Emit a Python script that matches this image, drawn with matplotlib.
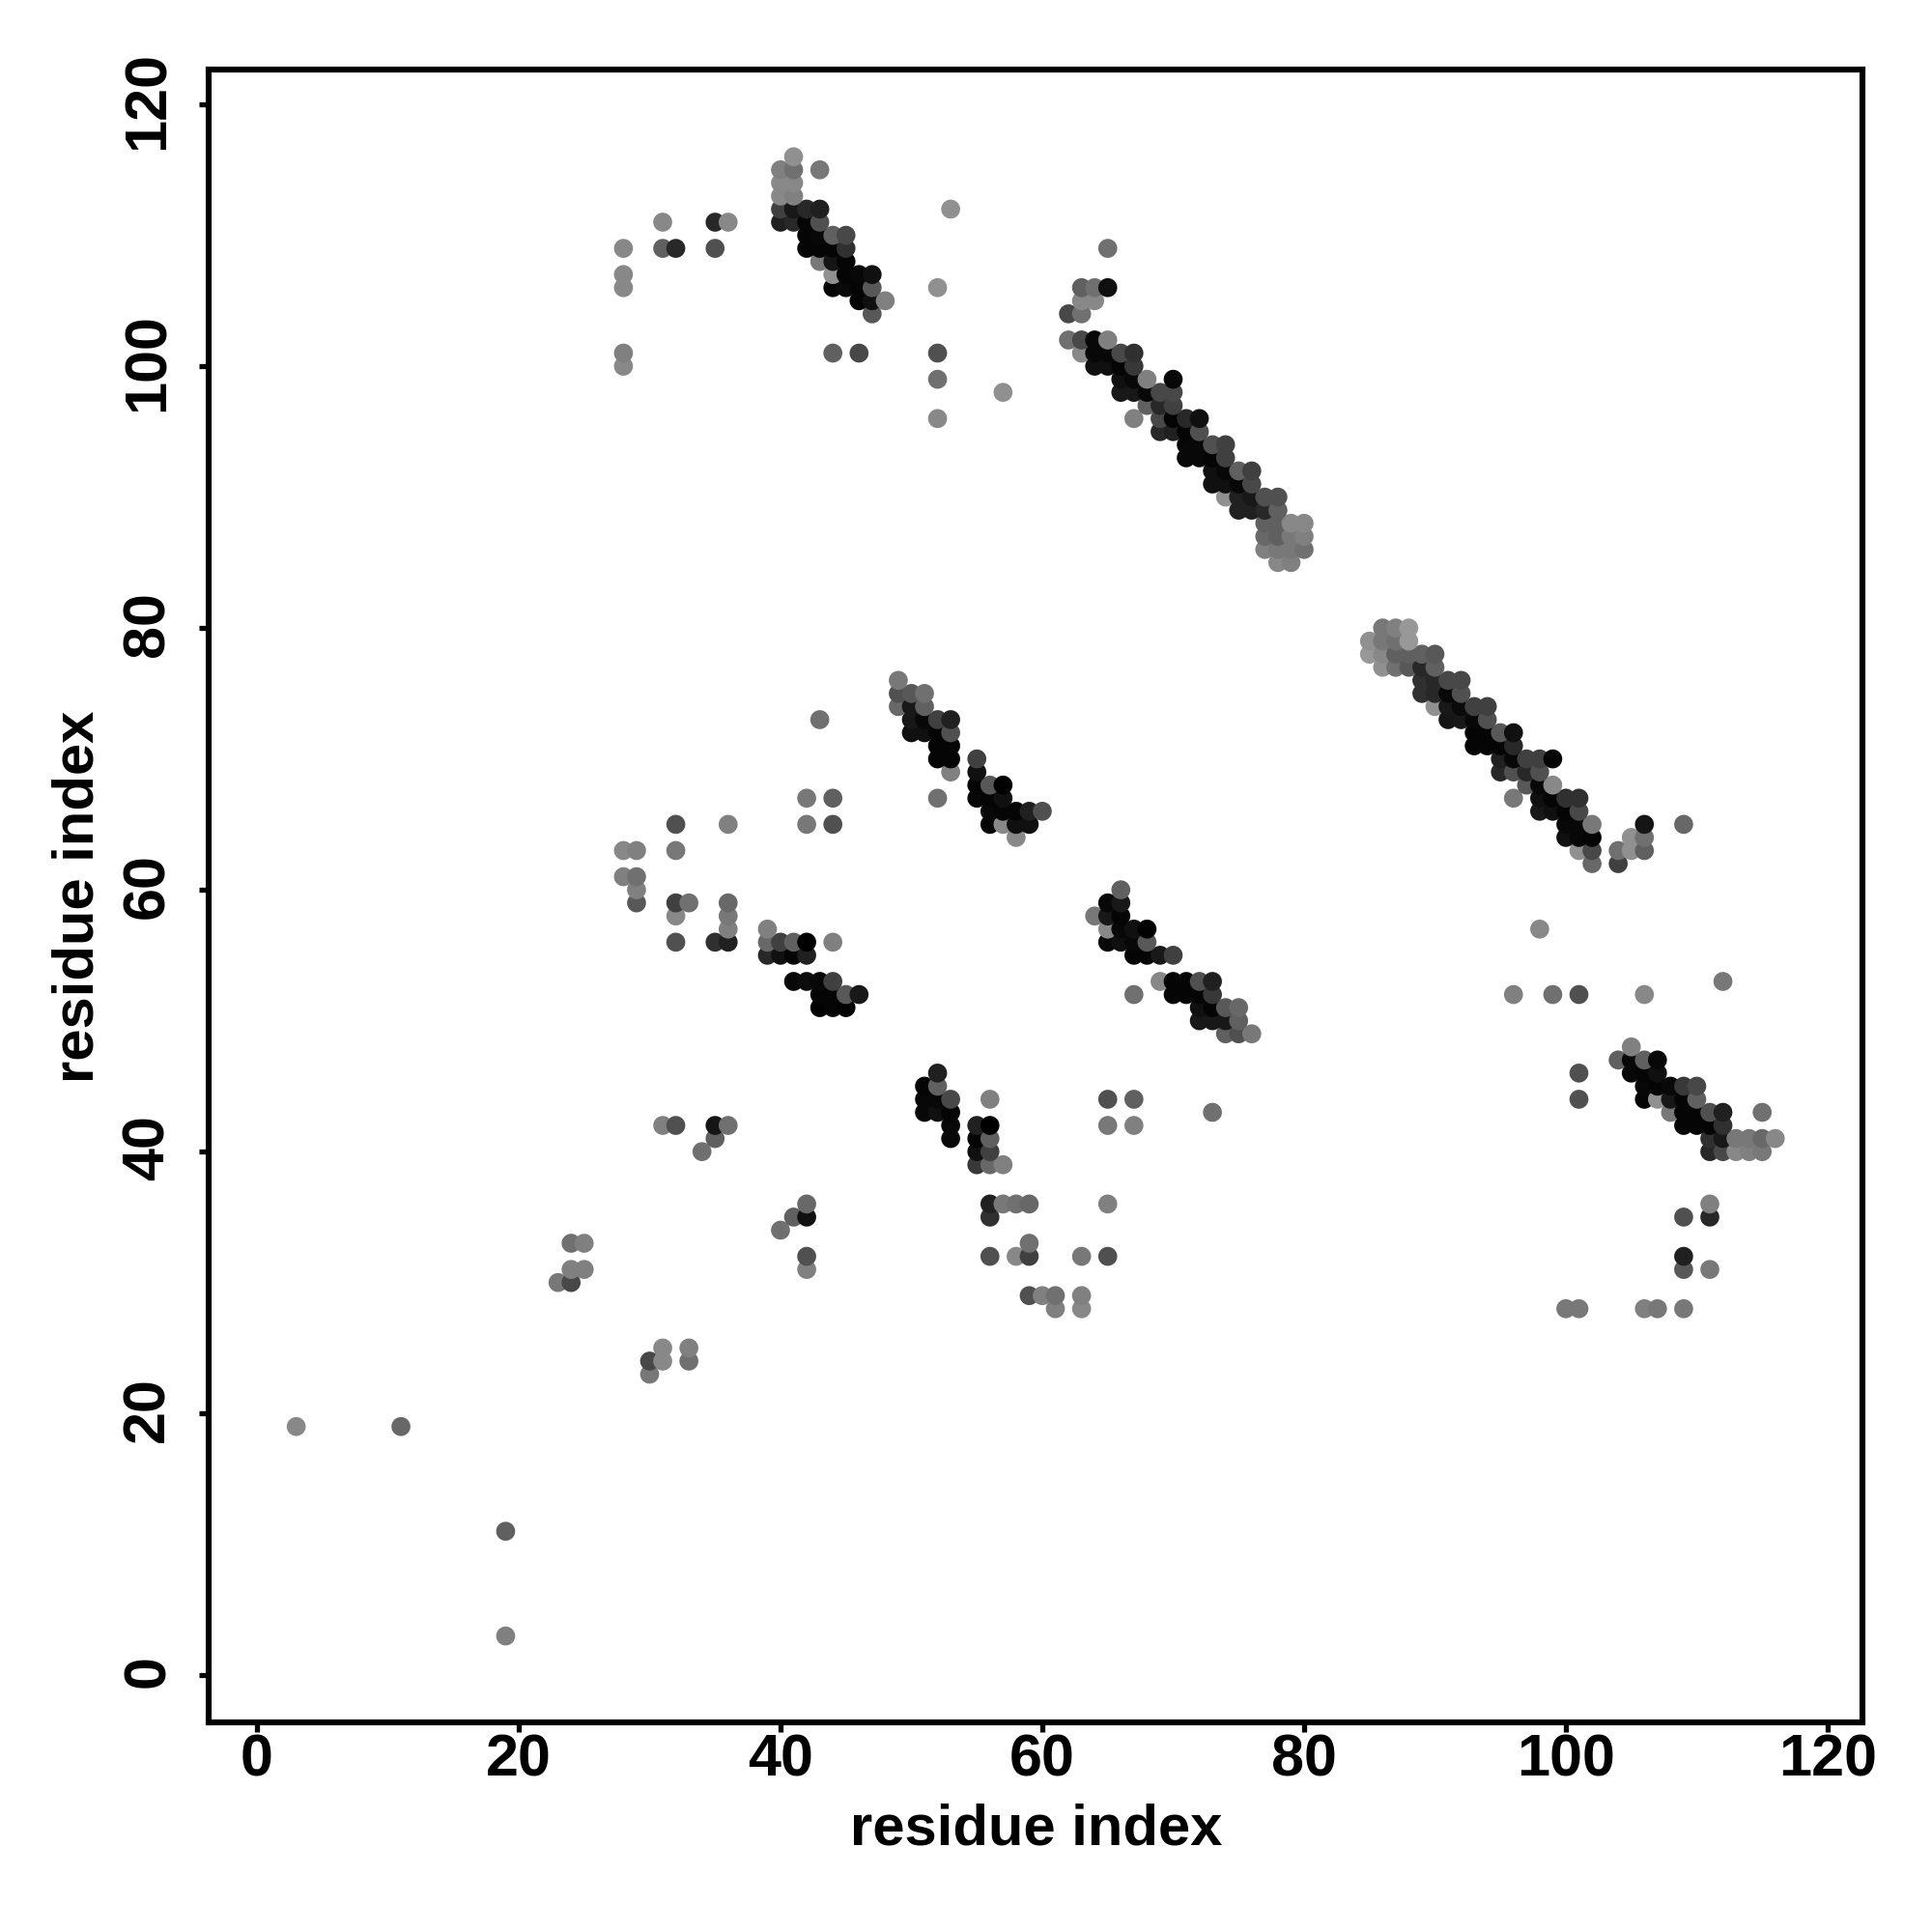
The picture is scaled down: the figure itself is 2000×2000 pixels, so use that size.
import numpy as np
import matplotlib
matplotlib.use("Agg")
import matplotlib.pyplot as plt
from matplotlib.transforms import ScaledTranslation

plt.rcParams['font.family'] = ['Liberation Sans', 'DejaVu Sans']

# residue index on the y axis, one entry per row of contacts
row_y = [116,115,114,113,112,111,110,109,108,107,106,105,104,102,101,100,99,98,97,96,95,94,93,92,91,90,89,88,87,86,85,
         80,79,78,77,76,75,74,73,72,71,70,69,68,67,66,65,64,63,62,61,60,59,58,57,56,55,53,52,51,50,49,48,47,46,45,44,43,
         42,41,40,39,36,35,34,33,32,31,30,29,28,25,24,23,19,11,3]

# residue index on the x axis for the contacts of each row
row_x = [
 [41],[40,41,43],[40,41],[40,41],[40,41,42,43,53],[31,35,36,40,41,42,43],[42,43,44,45],
 [28,31,32,35,42,43,44,45,65],[43,44,45],[28,44,45,46,47],[28,44,45,46,47,52,63,64,65],[46,47,48,63,64],[47,62,63],
 [62,63,64,65],[28,44,46,52,63,64,65,66,67],[28,64,65,66,67],[52,66,67,68,70],[57,66,67,68,69,70],[68,69,70],
 [52,67,69,70,71,72],[69,70,71,72],[71,72,73,74],[71,72,73,74],[73,74,75,76],[73,74,75,76],[74,75,76,77,78],
 [75,76,77,78],[77,78,79,80],[77,78,79,80],[77,78,79,80],[78,79],
 [86,87,88],[85,86,87,88],[85,86,87,88,89,90],[86,87,88,89,90],[49,89,90,91,92],[49,50,51,89,90,91,92],
 [49,50,51,90,91,92,93,94],[43,50,51,52,53,91,92,93,94],[50,51,52,53,93,94,95,96],[52,53,93,94,95,96],
 [52,53,55,95,96,97,98,99],[53,55,95,96,97,98],[55,56,57,97,98,99],[42,44,52,55,56,57,96,98,99,100,101],
 [56,57,58,59,60,98,99,100,101],[32,36,42,44,56,57,58,59,100,101,102,106,109],[58,100,101,102,105,106],
 [28,29,32,101,102,104,105,106],[102,104],[28,29],[29,66],[29,32,33,36,65,66],[32,36,64,65,66],
 [36,39,65,66,67,68,98],[32,35,36,39,40,41,42,44,65,66,67,68],[39,40,41,42,67,68,69,70],
 [41,42,43,44,69,70,71,72,73,112],[43,44,45,46,67,70,71,72,73,96,99,101,106],[43,44,45,72,73,74,75],
 [72,73,74,75],[74,75,76],[105],[104,105,106,107],[52,101,105,106,107],[51,52,106,107,108,109,110],
 [51,52,53,56,65,67,101,106,107,108,109,110],[51,52,53,73,108,109,110,111,112,115],
 [31,32,35,36,53,55,56,65,67,109,110,111,112],[35,53,55,56,111,112,113,114,115,116],[34,55,56,111,112,113,114,115],
 [55,56,57],[42,56,57,58,59,65,111],[41,42,56,109,111],[40],[24,25,59],[42,56,58,59,63,65,109],[24,25,42,109,111],
 [23,24],[59,60,61,63],[61,63,100,101,106,107,109],[31,33],[30,31,33],[30],[3,11],[19],[19],
]

# grey level (0-255) of the contacts of each row
row_grey = [
 [0x90],[0x80,0x70,0x78],[0x88,0x88],[0x88,0x80],[0x40,0x18,0x28,0x20,0x90],[0x88,0x28,0x88,0x20,0x28,0x05,0x50],
 [0x05,0x08,0x60,0x48],[0x88,0x60,0x28,0x50,0x05,0x05,0x05,0x30,0x70],[0x78,0x15,0x05],[0x88,0x90,0x05,0x08,0x10],
 [0x88,0x05,0x0a,0x05,0x58,0x90,0x60,0x70,0x10],[0x05,0x10,0x80,0x88,0x88],[0x58,0x48,0x70],
 [0x70,0x48,0x08,0x80],[0x80,0x60,0x48,0x50,0x88,0x08,0x08,0x48,0x30],[0x88,0x10,0x10,0x05,0x38],
 [0x70,0x10,0x08,0x80,0x08],[0x90,0x18,0x18,0x08,0x48,0x48],[0x60,0x28,0x40],[0x88,0x80,0x48,0x05,0x28,0x10],
 [0x28,0x20,0x05,0x50],[0x08,0x08,0x50,0x40],[0x08,0x08,0x05,0x40],[0x10,0x08,0x60,0x40],[0x10,0x10,0x08,0x48],
 [0x90,0x20,0x18,0x50,0x50],[0x20,0x20,0x28,0x60],[0x60,0x60,0x88,0x88],[0x68,0x60,0x78,0x80],[0x80,0x78,0x78,0x70],
 [0x88,0x80],
 [0x78,0x80,0x98],[0x90,0x78,0x70,0x98],[0x98,0x88,0x60,0x60,0x60,0x58],[0x90,0x70,0x58,0x28,0x60],
 [0x78,0x30,0x28,0x48,0x48],[0x50,0x58,0x70,0x30,0x28,0x08,0x50],[0x68,0x18,0x60,0x90,0x18,0x0a,0x40,0x40],
 [0x70,0x18,0x08,0x40,0x20,0x15,0x18,0x08,0x50],[0x10,0x10,0x05,0x50,0x05,0x05,0x58,0x10],
 [0x05,0x05,0x05,0x05,0x05,0x28],[0x05,0x05,0x40,0x20,0x08,0x40,0x40,0x05],[0x80,0x10,0x28,0x50,0x28,0x50],
 [0x05,0x58,0x02,0x58,0x08,0x88],[0x78,0x60,0x70,0x08,0x05,0x10,0x78,0x10,0x05,0x30,0x30],
 [0x08,0x05,0x05,0x20,0x50,0x18,0x10,0x05,0x48],
 [0x50,0x80,0x78,0x50,0x05,0x88,0x10,0x10,0x08,0x08,0x78,0x15,0x68],[0x88,0x10,0x08,0x05,0x90,0x70],
 [0x88,0x80,0x78,0x90,0x48,0x70,0x90,0x60],[0x68,0x40],[0x80,0x70],[0x80,0x60],[0x58,0x40,0x70,0x68,0x08,0x18],
 [0x88,0x78,0x78,0x18,0x05],[0x80,0x80,0x88,0x08,0x10,0x02,0x88],
 [0x50,0x30,0x20,0x68,0x40,0x60,0x00,0x80,0x08,0x10,0x08,0x58],[0x28,0x10,0x05,0x20,0x05,0x05,0x18,0x40],
 [0x08,0x0c,0x08,0x40,0x88,0x05,0x05,0x50,0x20,0x78],
 [0x05,0x05,0x58,0x18,0x70,0x05,0x05,0x05,0x38,0x80,0x70,0x50,0x88],[0x02,0x05,0x02,0x10,0x05,0x58,0x68],
 [0x18,0x18,0x18,0x60],[0x60,0x50,0x78],[0x80],[0x60,0x08,0x60,0x08],[0x20,0x50,0x08,0x05,0x10],
 [0x05,0x60,0x08,0x05,0x08,0x38,0x48],[0x08,0x08,0x48,0x80,0x50,0x60,0x50,0x05,0x90,0x18,0x05,0x60],
 [0x08,0x10,0x05,0x70,0x78,0x05,0x05,0x50,0x20,0x70],
 [0x80,0x50,0x15,0x70,0x08,0x20,0x00,0x78,0x80,0x05,0x05,0x05,0x30],[0x60,0x08,0x05,0x60,0x30,0x18,0x78,0x78,0x68,0x88],
 [0x70,0x10,0x40,0x28,0x48,0x88,0x80,0x78],[0x38,0x68,0x80],[0x68,0x20,0x78,0x70,0x68,0x80,0x80],
 [0x60,0x10,0x30,0x50,0x28],[0x70],[0x70,0x80,0x70],[0x50,0x50,0x88,0x40,0x78,0x50,0x20],[0x80,0x80,0x80,0x58,0x78],
 [0x78,0x48],[0x50,0x80,0x70,0x80],[0x80,0x88,0x78,0x78,0x80,0x78,0x78],[0x88,0x80],[0x48,0x88,0x70],[0x78],
 [0x88,0x68],[0x60],[0x80],
]

x_ticks = [0, 20, 40, 60, 80, 100, 120]
y_ticks = [0, 20, 40, 60, 80, 100, 120]
x_title = "residue index"
y_title = "residue index"

fig = plt.figure(figsize=(10, 10), dpi=200, facecolor="white")
W = H = 2000.0
ax = fig.add_axes([216/W, 1-1783/H, (1928-216)/W, (1783-72)/H])

xs, ys, gs = [], [], []
for y, xr, gr in zip(row_y, row_x, row_grey):
    assert len(xr) == len(gr), y
    for x, g in zip(xr, gr):
        xs.append(x); ys.append(y); gs.append(g)
xs, ys, gs = np.array(xs), np.array(ys), np.array(gs)
order = np.lexsort((xs, ys))
colors = [(g/255, g/255, g/255) for g in gs[order]]
ax.scatter(xs[order], ys[order], s=50, c=colors, linewidths=0, zorder=3)

ax.set_xlim(-3.69, 122.66)
ax.set_ylim(-3.6, 122.66)
ax.set_xticks(x_ticks)
ax.set_yticks(y_ticks)
ax.tick_params(axis='both', direction='out', length=3.6, width=1.9, labelsize=22)
ax.tick_params(axis='x', pad=0.5)
ax.tick_params(axis='y', pad=8.4)
for t in ax.get_xticklabels() + ax.get_yticklabels():
    t.set_fontweight('bold')
offset = ScaledTranslation(0, 1.4/72, fig.dpi_scale_trans)
for t in ax.get_yticklabels():
    t.set_rotation(90)
    t.set_va('center')
    t.set_transform(t.get_transform() + offset)
for s in ax.spines.values():
    s.set_linewidth(2.2)

ax.set_xlabel(x_title, fontsize=21.5, fontweight='bold')
ax.set_ylabel(y_title, fontsize=21.5, fontweight='bold')
ax.xaxis.set_label_coords(1073/W, 1-1894/H, transform=fig.transFigure)
ax.xaxis.label.set_va('center')
ax.yaxis.set_label_coords(81/W, 1-928/H, transform=fig.transFigure)
ax.yaxis.label.set_va('center')

fig.savefig("out.png", dpi=200, facecolor="white")
